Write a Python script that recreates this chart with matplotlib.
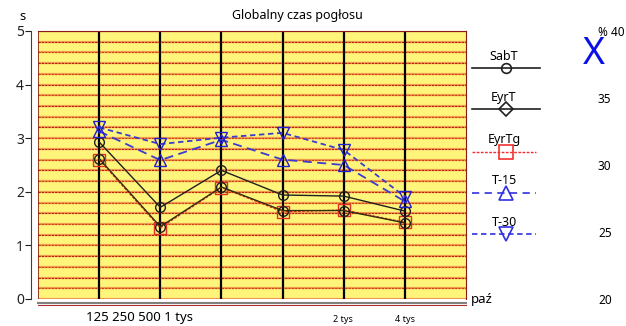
import numpy as np
import matplotlib
matplotlib.use('Agg')
import matplotlib.pyplot as plt

plt.rcParams['font.family'] = ['Noto Sans', 'DejaVu Sans']

# octave band positions (1 = 125 Hz ... 6 = 4 kHz)
bands = [1, 2, 3, 4, 5, 6]

sab_t = [2.93, 1.71, 2.40, 1.94, 1.92, 1.64]
eyr_t = [2.62, 1.35, 2.09, 1.65, 1.65, 1.42]
eyr_tg = [2.60, 1.33, 2.08, 1.63, 1.66, 1.43]
t15 = [3.13, 2.59, 2.97, 2.60, 2.50, 1.82]
t30 = [3.20, 2.89, 3.01, 3.10, 2.78, 1.91]

y_ticks = [0, 1, 2, 3, 4, 5]
pct_ticks = [20, 25, 30, 35, 40]
pct_labels = ['20', '25', '30', '35', '% 40']

legend_names = ['SabT', 'EyrT', 'EyrTg', 'T-15', 'T-30']

W, H = 626, 326
fig = plt.figure(figsize=(W / 100, H / 100), dpi=100)

def px_box(x0, y0, x1, y1):
    return [x0 / W, 1 - y1 / H, (x1 - x0) / W, (y1 - y0) / H]

ax = fig.add_axes(px_box(38, 31, 466, 299))
ax.set_facecolor('#fff57a')
ax.set_xlim(0, 7)
ax.set_ylim(0, 5)

# horizontal rulings: orange band with a red dotted core
for i, yv in enumerate(np.arange(0, 5.01, 0.2)):
    ax.axhline(yv, color='#f0a050', lw=1.6, zorder=1)
    c = '#b82010' if i % 2 == 0 else '#d04018'
    ax.axhline(yv, color=c, lw=0.8, ls=(0, (2, 1)), zorder=1)
for xv in bands:
    ax.axvline(xv, color='black', lw=1.6, zorder=2)

ax.plot(bands, sab_t, color='#202020', lw=1, marker='o', ms=7, mfc='none', mec='#202020', zorder=5)
ax.plot(bands, eyr_tg, color='#e02010', lw=1, ls=(0, (2, 1)), marker='s', ms=9, mfc='none', mec='#e03020', zorder=4)
ax.plot(bands, eyr_t, color='#303010', lw=1, marker='o', ms=7, mfc='none', mec='#202020', zorder=5)
ax.plot(bands, t15, color='#3b3bd0', lw=1.3, ls=(0, (5, 3)), marker='^', ms=8.5, mfc='none', mec='#2020d0', zorder=6)
ax.plot(bands, t30, color='#3b3bd0', lw=1.3, ls=(0, (3, 2)), marker='v', ms=8.5, mfc='none', mec='#2020d0', zorder=6)

for s in ['top', 'right']:
    ax.spines[s].set_color('#8b1a10')
ax.spines['bottom'].set_visible(False)
ax.axvline(0, color='#8b1a10', lw=1.2, zorder=3)
ax.spines['left'].set_position(('outward', 5))
ax.spines['left'].set_color('#404040')
ax.set_yticks(y_ticks)
ax.tick_params(axis='y', length=4, labelsize=10, pad=1, colors='#202020')
ax.set_xticks([])

# double baseline under the plot
ax.plot([0, 1], [-4 / 268, -4 / 268], transform=ax.transAxes, color='#808080', lw=1.5, clip_on=False)
ax.plot([0, 1], [-6 / 268, -6 / 268], transform=ax.transAxes, color='#b03030', lw=0.8, clip_on=False)

# right-hand percentage scale
ax2 = ax.twinx()
ax2.set_ylim(20, 40)
ax2.set_yticks(pct_ticks)
ax2.set_yticklabels(pct_labels)
ax2.spines['right'].set_position(('outward', 95))
for s in ax2.spines.values():
    s.set_visible(False)
ax2.tick_params(axis='y', length=0, pad=0, labelsize=8.5)

# overlay in pixel coordinates for texts and legend
ov = fig.add_axes([0, 0, 1, 1], facecolor='none')
ov.set_xlim(0, W)
ov.set_ylim(H, 0)
ov.axis('off')

ov.text(297, 16, 'Globalny czas pogłosu', ha='center', va='center', fontsize=9)
ov.text(22, 16, 's', ha='center', va='center', fontsize=9.5)
ov.text(140, 318, '125 250 500 1 tys', ha='center', va='center', fontsize=9.5)
ov.text(343, 320, '2 tys', ha='center', va='center', fontsize=6.5)
ov.text(405, 320, '4 tys', ha='center', va='center', fontsize=6.5)
ov.text(471, 300, 'paź', ha='left', va='center', fontsize=9.5)
ov.text(594, 54, 'X', ha='center', va='center', fontsize=27, color='#0a10e8')

leg_y = [68, 109, 152, 193, 234]
leg_style = [
    dict(color='#202020', lw=1.2, ls='-', marker='o', mec='#202020', ms=7),
    dict(color='#202020', lw=1.2, ls='-', marker='D', mec='#202020', ms=7),
    dict(color='#f03030', lw=1.0, ls=(0, (2, 1)), marker='s', mec='#f03030', ms=10),
    dict(color='#4040e0', lw=1.3, ls=(0, (4, 3)), marker='^', mec='#3030e0', ms=10),
    dict(color='#4040e0', lw=1.3, ls=(0, (3, 2)), marker='v', mec='#3030e0', ms=10),
]
for name, yl, st in zip(legend_names, leg_y, leg_style):
    x1 = 540 if st['ls'] == '-' else 536
    ov.plot([472, x1], [yl, yl], color=st['color'], lw=st['lw'], ls=st['ls'])
    ov.plot([506], [yl], marker=st['marker'], ms=st['ms'], mfc='none', mec=st['mec'], mew=1.2)
    ov.text(504, yl - 12, name, ha='center', va='center', fontsize=9)

fig.savefig('out.png', dpi=100)
